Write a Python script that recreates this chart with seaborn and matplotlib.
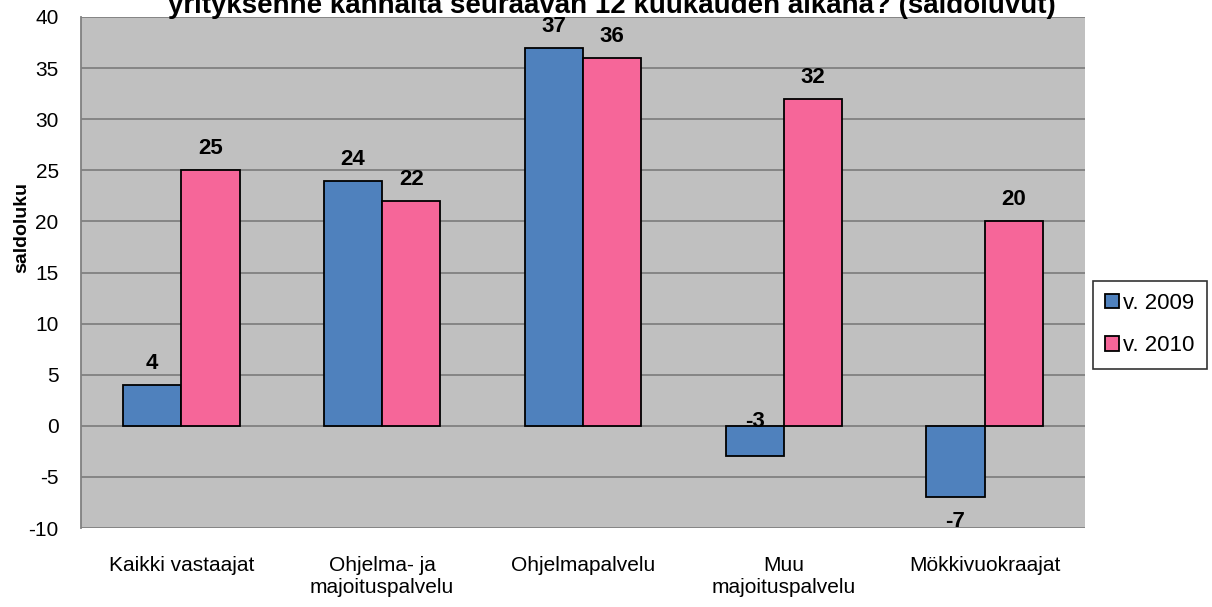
import numpy as np
import pandas as pd
import matplotlib.pyplot as plt
import seaborn as sns

kategoriat = ['Kaikki vastaajat', 'Ohjelma- ja\nmajoituspalvelu', 'Ohjelmapalvelu',
              'Muu\nmajoituspalvelu', 'Mökkivuokraajat']
v2009 = [4, 24, 37, -3, -7]
v2010 = [25, 22, 36, 32, 20]
sarjat = ['v. 2009', 'v. 2010']
otsikko = 'yrityksenne kannalta seuraavan 12 kuukauden aikana? (saldoluvut)'

dados = pd.DataFrame({
    'kategoria': kategoriat * 2,
    'saldo': v2009 + v2010,
    'vuosi': [sarjat[0]] * 5 + [sarjat[1]] * 5,
})

sns.set_style('white')
plt.rcParams['font.family'] = ['Liberation Sans', 'DejaVu Sans']
plt.rcParams['text.color'] = 'black'
plt.rcParams['xtick.color'] = 'black'
plt.rcParams['ytick.color'] = 'black'
plt.rcParams['axes.labelcolor'] = 'black'
plt.rcParams['axes.unicode_minus'] = False

fig = plt.figure(figsize=(12.12, 6.07), dpi=100)
ax = fig.add_axes([0.0668, 0.1301, 0.8284, 0.8419])
ax.set_facecolor('#C0C0C0')

sns.barplot(data=dados, x='kategoria', y='saldo', hue='vuosi',
            palette=['#4F81BD', '#F66699'], width=0.58,
            edgecolor='black', linewidth=1.3, saturation=1, ax=ax, zorder=3)

ax.set_xlim(-0.5, 4.5)
ax.set_ylim(-10, 40)
ax.set_yticks(np.arange(-10, 41, 5))
ax.yaxis.grid(True, color='#808080', linewidth=1.3, zorder=0)
ax.set_axisbelow(True)
for s in ['top', 'right', 'bottom']:
    ax.spines[s].set_visible(False)
ax.spines['left'].set_color('#808080')
ax.spines['left'].set_linewidth(1.3)

ax.tick_params(axis='y', length=0, labelsize=15, pad=16)
ax.tick_params(axis='x', length=0, labelsize=15, pad=20)
ax.set_xlabel('')
ax.set_ylabel('saldoluku', fontsize=14, fontweight='bold')
ax.yaxis.set_label_coords(-0.05, 0.589)

# arvot pylväiden päälle
for cont in ax.containers:
    for p in cont:
        v = p.get_height() if p.get_y() >= 0 else p.get_y()
        xc = p.get_x() + p.get_width() / 2
        if v >= 0:
            y = v + 2.1
        elif v > -5:
            y = 0.4
        else:
            y = v - 2.4
        ax.text(xc, y, f'{v:.0f}', ha='center', va='center',
                fontsize=16, fontweight='bold', zorder=4)

leg = ax.legend(loc='upper left', bbox_to_anchor=(0.902, 0.537),
                bbox_transform=fig.transFigure, fontsize=16, frameon=True,
                fancybox=False, edgecolor='black', handlelength=0.6,
                handleheight=0.6, handletextpad=0.2, borderpad=0.55,
                labelspacing=0.95, borderaxespad=0)
leg.get_frame().set_linewidth(1.2)
leg.get_frame().set_facecolor('white')

fig.text(0.505, 1 - 13 / 607, otsikko, ha='center', va='baseline',
         fontsize=20, fontweight='bold')

fig.savefig('out.png', dpi=100, facecolor='white')
